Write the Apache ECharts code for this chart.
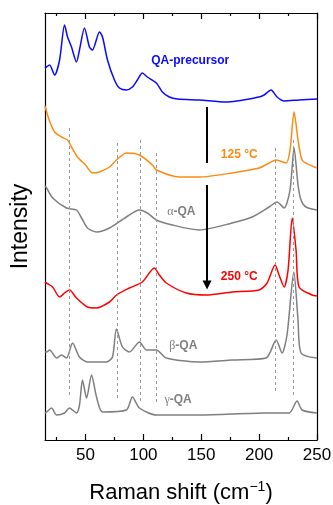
<!DOCTYPE html>
<html>
<head>
<meta charset="utf-8">
<script src="https://cdn.jsdelivr.net/npm/echarts@6/dist/echarts.min.js"></script>
<style>
html, body { margin: 0; padding: 0; background: #fff; }
#main { width: 333px; height: 505px; }
</style>
</head>
<body>
<div id="main"></div>
<script>
// spectra, [Raman shift, offset intensity]
var precursor = [[15,372],[16.1,373],[19,375],[23.3,365],[27.6,380],[31.9,415],[34.5,403],[37.9,393],[42.2,378],[44.8,390],[49.1,412],[53.4,393],[56,390],[62.1,408],[64.7,403],[69,380],[75,360],[79.3,352],[85.3,350],[90.5,353],[94.8,360],[99.1,367],[103.4,363],[111.2,357],[116.4,348],[122.4,343],[129.3,341],[148.3,340],[171.6,338],[200,343],[204.3,345],[210.3,350],[215.5,343],[221.6,339],[234.5,340],[250,341]];
var t125 = [[15,334],[18.6,320],[23.3,308],[29.3,303],[34.5,300],[37.9,293],[43.1,283],[50,275],[56,267],[62.1,268],[70.7,273],[76.7,280],[85.3,287],[96.6,285],[107.8,275],[111.2,270],[131,263],[148.3,263],[176.7,267],[200,272],[208.6,277],[214.7,280],[223.3,277],[226.7,290],[230.2,328],[233.6,300],[236.2,283],[238.8,278],[250,272]];
var alphaQA = [[15,254],[16.4,252],[21.6,242],[33.6,232],[42.2,230],[46.6,222],[51.7,212],[59.5,208],[70.7,212],[85.3,223],[96.6,230],[103.4,227],[111.2,220],[125,215],[148.3,210],[176.7,217],[194,223],[208.6,233],[215.5,238],[221.6,232],[226.7,250],[230.2,292],[233.6,255],[236.2,240],[240.5,233],[250,230]];
var t250 = [[15,158],[16.1,157],[21.6,153],[27.6,143],[31.9,147],[36.2,150],[42.2,142],[51.7,133],[59.5,132],[70.7,138],[76.7,145],[87.9,152],[99.1,158],[109.5,172],[113.8,165],[119.8,157],[137.1,147],[154.3,145],[176.7,148],[200,150],[206.9,157],[213.8,175],[217.2,165],[221.6,153],[225,170],[228.6,222],[231.9,190],[234.5,153],[245.7,145],[250,144]];
var betaQA = [[15,88],[16.4,88],[19,90],[25,82],[29.3,85],[33.6,82],[38.8,97],[44.8,83],[51.7,78],[68.1,78],[73.3,83],[76.7,111],[81.9,93],[87.9,88],[96.6,98],[102.6,90],[111.2,90],[119.8,82],[148.3,78],[176.7,80],[206,82],[214.7,100],[219.8,87],[224.1,105],[230,168],[233.6,120],[236.2,87],[250,82]];
var gammaQA = [[15,27],[16.4,28],[20.7,32],[25,25],[31.9,27],[36.2,32],[42.2,27],[44.8,35],[47.4,60],[50.9,42],[55.2,65],[59.5,43],[64.7,28],[85.3,30],[90.5,43],[96.6,32],[111.2,25],[148.3,25],[206,27],[225.9,27],[232.8,39],[237.1,30],[250,27]];

// reference lines: [shift, from, to]
var peakLines = [[35.6,312,42],[77.2,297,40],[97.4,300,38],[110.9,287,37],[213.8,292,48],[229.6,300,45]];
var majorTicks = [50, 100, 150, 200, 250];
var minorTicks = [25, 75, 125, 175, 225];
// arrow x, segments
var arrowX = 155;
var arrowTop = [333, 277];
var arrowBottom = [255, 155];

// label text, x, y, colour
var labels = [
    ['{b|QA-precursor}', 140.5, 379, '#0a0aff'],
    ['{b|125 °C}', 182.8, 285, '#ff8a12'],
    ['{g|α}{b|-QA}', 132.8, 228, '#7f7f7f'],
    ['{b|250 °C}', 182.8, 163, '#ff0000'],
    ['{g|β}{b|-QA}', 134.5, 94, '#7f7f7f'],
    ['{g|γ}{b|-QA}', 130, 40, '#7f7f7f']
];

var chart = echarts.init(document.getElementById('main'));

function spec(name, data, color) {
    return {
        name: name, type: 'line', data: data, showSymbol: false, symbol: 'none',
        smooth: 0.25, lineStyle: { color: color, width: 1.5 }, z: 3
    };
}

var series = [
    spec('QA-precursor', precursor, '#0a0aff'),
    spec('125', t125, '#ff8a12'),
    spec('alpha', alphaQA, '#7f7f7f'),
    spec('250', t250, '#ff0000'),
    spec('beta', betaQA, '#7f7f7f'),
    spec('gamma', gammaQA, '#7f7f7f')
];

// dashed guide lines
series.push({
    type: 'line', data: [], silent: true, z: 1,
    markLine: {
        silent: true, symbol: ['none', 'none'], label: { show: false },
        lineStyle: { color: '#999', type: [3, 3], width: 1 },
        data: peakLines.map(function (p) {
            return [{ coord: [p[0], p[1]] }, { coord: [p[0], p[2]] }];
        })
    }
});

// arrow
series.push({
    type: 'line', data: [], silent: true, z: 4,
    markLine: {
        silent: true, symbol: ['none', 'none'], label: { show: false },
        lineStyle: { color: '#000', type: 'solid', width: 2 },
        data: [
            [{ coord: [arrowX, arrowTop[0]] }, { coord: [arrowX, arrowTop[1]] }],
            [{ coord: [arrowX, arrowBottom[0]] }, { coord: [arrowX, arrowBottom[1]], symbol: 'triangle', symbolSize: [9, 9], symbolRotate: 180 }]
        ]
    }
});

labels.forEach(function (l) {
    series.push({
        type: 'scatter', symbolSize: 1, itemStyle: { color: 'rgba(0,0,0,0)' }, silent: true, z: 5,
        data: [[l[1], l[2]]],
        label: {
            show: true, position: 'inside', formatter: l[0], opacity: 1,
            rich: {
                b: { color: l[3], fontSize: 12, fontWeight: 'bold', fontFamily: 'Liberation Sans' },
                g: { color: l[3], fontSize: 12, fontFamily: 'Liberation Serif' }
            }
        }
    });
});

var axLine = { show: true, lineStyle: { color: '#000', width: 1.2 } };

var option = {
    animation: false,
    backgroundColor: '#fff',
    grid: { left: 45, right: 16, top: 13, bottom: 65, containLabel: false, outerBoundsMode: 'none' },
    xAxis: [{
        type: 'value', min: 15, max: 250, position: 'bottom',
        axisLine: axLine,
        axisTick: { show: true, inside: true, length: 6, customValues: majorTicks, lineStyle: { color: '#000', width: 1.2 } },
        axisLabel: { customValues: majorTicks, fontSize: 17, color: '#000', fontFamily: 'Liberation Sans', margin: 7 },
        splitLine: { show: false },
        name: '{a|Raman shift (cm}{s|−1}{a|)}', nameLocation: 'middle', nameGap: 40,
        nameTextStyle: {
            rich: {
                a: { fontSize: 22, color: '#000', fontFamily: 'Liberation Sans' },
                s: { fontSize: 14, color: '#000', fontFamily: 'Liberation Sans', verticalAlign: 'top', padding: [0, 0, 12, 0] }
            }
        }
    }, {
        type: 'value', min: 15, max: 250, position: 'bottom',
        axisLine: { show: false },
        axisTick: { show: true, inside: true, length: 3, customValues: minorTicks, lineStyle: { color: '#000', width: 1.2 } },
        axisLabel: { show: false }, splitLine: { show: false }
    }, {
        type: 'value', min: 15, max: 250, position: 'top',
        axisLine: axLine,
        axisTick: { show: true, inside: true, length: 6, customValues: majorTicks, lineStyle: { color: '#000', width: 1.2 } },
        axisLabel: { show: false }, splitLine: { show: false }
    }, {
        type: 'value', min: 15, max: 250, position: 'top',
        axisLine: { show: false },
        axisTick: { show: true, inside: true, length: 3, customValues: minorTicks, lineStyle: { color: '#000', width: 1.2 } },
        axisLabel: { show: false }, splitLine: { show: false }
    }],
    yAxis: [{
        type: 'value', min: 0, max: 427, position: 'left',
        axisLine: axLine, axisTick: { show: false }, axisLabel: { show: false }, splitLine: { show: false },
        name: 'Intensity', nameLocation: 'middle', nameGap: 13, nameRotate: 90,
        nameTextStyle: { fontSize: 23, color: '#000', fontFamily: 'Liberation Sans' }
    }, {
        type: 'value', min: 0, max: 427, position: 'right',
        axisLine: axLine, axisTick: { show: false }, axisLabel: { show: false }, splitLine: { show: false }
    }],
    series: series
};

chart.setOption(option);
</script>
</body>
</html>
